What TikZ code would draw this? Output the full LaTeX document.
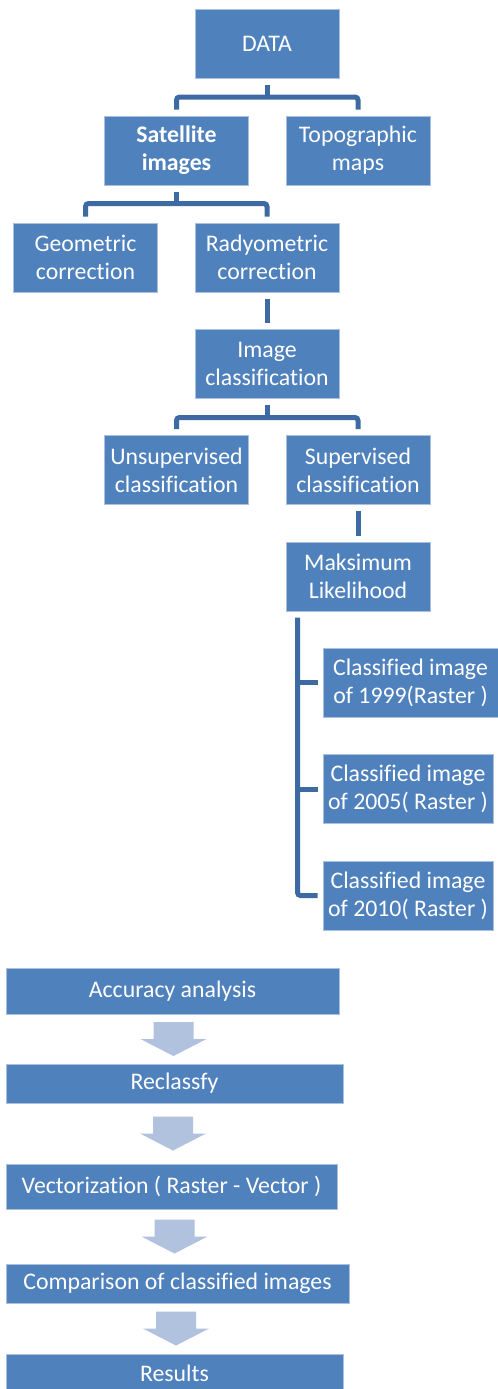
\documentclass[tikz,border=0pt]{standalone}
\usepackage{fontspec}
\setmainfont{Carlito}[Ligatures=CommonOff]
\usepackage{tikz}
\usetikzlibrary{calc}
\definecolor{boxblue}{HTML}{4F81BD}
\definecolor{boxedge}{HTML}{A9C0DF}
\definecolor{linkblue}{HTML}{3D6AA3}
\definecolor{arrowblue}{HTML}{B0C2DE}
\tikzset{
  box/.style={fill=boxblue, draw=boxedge, line width=0.5pt, text=white, align=center,
    inner sep=0pt, minimum width=72pt, minimum height=34.5pt,
    font=\fontsize{11.9pt}{14pt}\selectfont},
  link/.style={draw=linkblue, line width=2.5pt, rounded corners=1.5pt},
  flowarrow/.pic={
    \fill[arrowblue] (-20,-17) -- (20,-17) -- (20,0) -- (33,0) -- (0,17) -- (-33,0) -- (-20,0) -- cycle;
  }
}

\begin{document}
\begin{tikzpicture}[x=0.5pt,y=-0.5pt]
			\useasboundingbox (0,0) rectangle (498,1389);
			% tree part
			\node[box] (data) at (267,44) {DATA};
			\node[box,font=\fontsize{11.9pt}{14pt}\selectfont\bfseries] (sat) at (176.5,150.5) {Satellite\\images};
			\node[box] (topo) at (358,150.5) {Topographic\\maps};
			\node[box] (geo) at (85.5,257.5) {Geometric\\correction};
			\node[box] (rad) at (267,257.5) {Radyometric\\correction};
			\node[box] (imgcls) at (267,363.5) {Image\\classification};
			\node[box] (unsup) at (176.5,470) {Unsupervised\\classification};
			\node[box] (sup) at (358,470) {Supervised\\classification};
			\node[box] (maks) at (358,576.5) {Maksimum\\Likelihood};
			\node[box,minimum width=87.5pt] (cls99) at (410.5,682.5) {Classified image\\of 1999(Raster )};
			\node[box,minimum width=85pt] (cls05) at (408,789) {Classified image\\of 2005( Raster )};
			\node[box,minimum width=85pt] (cls10) at (408,895.5) {Classified image\\of 2010( Raster )};
			% connectors
			\draw[link] ([yshift=-3pt]data.south) -- ($(data.south)+(0,18)$);
			\draw[link] ([yshift=3pt]sat.north) |- ($(data.south)+(0,18)$) -| ([yshift=3pt]topo.north);
			\draw[link] ([yshift=-3pt]sat.south) -- ($(sat.south)+(0,18)$);
			\draw[link] ([yshift=3pt]geo.north) |- ($(sat.south)+(0,18)$) -| ([yshift=3pt]rad.north);
			\draw[link] ([yshift=-3pt]rad.south) -- ([yshift=3pt]imgcls.north);
			\draw[link] ([yshift=-3pt]imgcls.south) -- ($(imgcls.south)+(0,19)$);
			\draw[link] ([yshift=3pt]unsup.north) |- ($(imgcls.south)+(0,19)$) -| ([yshift=3pt]sup.north);
			\draw[link] ([yshift=-3pt]sup.south) -- ([yshift=3pt]maks.north);
			\coordinate (trunk) at ([xshift=6pt,yshift=-3pt]maks.south west);
			\draw[link] (trunk) |- ([xshift=-2.5pt]cls10.west);
			\draw[link] (trunk |- cls99.west) -- ([xshift=-2.5pt]cls99.west);
			\draw[link] (trunk |- cls05.west) -- ([xshift=-2.5pt]cls05.west);
			% flow part
			\node[box,minimum width=166.5pt,minimum height=23pt] (acc) at (172.5,991) {Accuracy analysis};
			\node[box,minimum width=168.5pt,minimum height=19.5pt] (recl) at (174.5,1083.5) {Reclassfy};
			\node[box,minimum width=165.5pt,minimum height=22.5pt] (vect) at (171.5,1186.5) {Vectorization ( Raster - Vector )};
			\node[box,minimum width=171.5pt,minimum height=19.5pt] (comp) at (177.5,1283.5) {Comparison of classified images};
			\node[box,minimum width=168.5pt,minimum height=19.5pt] (res) at (174.5,1373.5) {Results};
			\pic at ($(acc.south)!0.5!(recl.north)$) {flowarrow};
			\pic at ($(recl.south)!0.5!(vect.north)$) {flowarrow};
			\pic at ($(vect.south)!0.5!(comp.north)$) {flowarrow};
			\pic at ($(comp.south)!0.5!(res.north)$) {flowarrow};
		\end{tikzpicture}
\end{document}
